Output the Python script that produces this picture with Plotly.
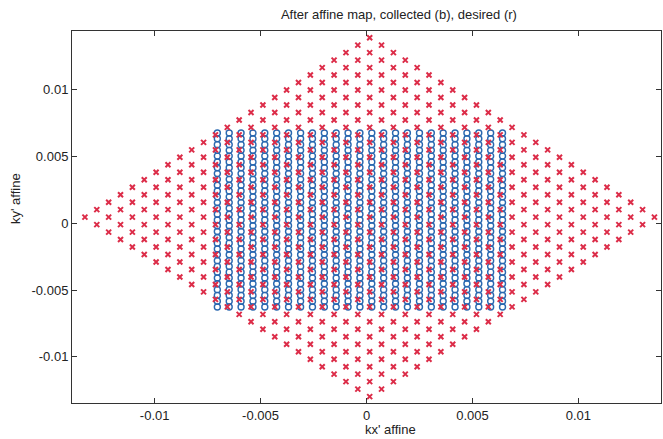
import plotly.graph_objects as go

# Collected samples (blue circles): rectangular grid after affine map
collected_kx = [-0.00704, -0.00648, -0.00592, -0.00536, -0.00480, -0.00424, -0.00368,
                -0.00311, -0.00255, -0.00199, -0.00143, -0.00087, -0.00031, 0.00025,
                0.00081, 0.00137, 0.00193, 0.00250, 0.00306, 0.00362, 0.00418, 0.00474,
                0.00530, 0.00586, 0.00642]
collected_ky = [-0.00627, -0.00584, -0.00540, -0.00497, -0.00453, -0.00410, -0.00366,
                -0.00323, -0.00280, -0.00236, -0.00193, -0.00149, -0.00106, -0.00062,
                -0.00019, 0.00025, 0.00068, 0.00112, 0.00155, 0.00198, 0.00242, 0.00285,
                0.00329, 0.00372, 0.00416, 0.00459, 0.00503, 0.00546, 0.00589, 0.00633,
                0.00676]

# Desired Cartesian grid (red x) before the affine map
desired_u = [-0.00672, -0.00616, -0.00560, -0.00504, -0.00448, -0.00392, -0.00336,
             -0.00280, -0.00224, -0.00168, -0.00112, -0.00056, 0.0, 0.00056, 0.00112,
             0.00168, 0.00224, 0.00280, 0.00336, 0.00392, 0.00448, 0.00504, 0.00560,
             0.00616, 0.00672]
desired_v = list(desired_u)
affine_matrix = [[1.0, 1.0], [-1.0, 1.0]]
affine_offset = [0.00015, 0.00046]

x_ticks = [-0.01, -0.005, 0, 0.005, 0.01]
x_tick_labels = ["-0.01", "-0.005", "0", "0.005", "0.01"]
y_ticks = [-0.01, -0.005, 0, 0.005, 0.01]
y_tick_labels = ["-0.01", "-0.005", "0", "0.005", "0.01"]

bx, by = [], []
for x in collected_kx:
    for y in collected_ky:
        bx.append(x)
        by.append(y)

rx, ry = [], []
for u in desired_u:
    for v in desired_v:
        rx.append(affine_matrix[0][0] * u + affine_matrix[0][1] * v + affine_offset[0])
        ry.append(affine_matrix[1][0] * u + affine_matrix[1][1] * v + affine_offset[1])

fig = go.Figure()
fig.add_trace(go.Scatter(
    x=bx, y=by, mode="markers", name="collected",
    marker=dict(symbol="circle-open", size=6, color="#2a68b0",
                line=dict(width=1.4, color="#2a68b0")),
))
fig.add_trace(go.Scatter(
    x=rx, y=ry, mode="markers", name="desired",
    marker=dict(symbol="x-thin", size=5, color="#dc2c48",
                line=dict(width=2, color="#dc2c48")),
))

font_family = "Liberation Sans, Arial, Helvetica, sans-serif"
axis_common = dict(
    showgrid=False, zeroline=False, showline=True, linecolor="#333333", linewidth=1,
    mirror="ticks", ticks="inside", ticklen=5, tickcolor="#333333", tickwidth=1,
    tickfont=dict(family=font_family, size=13, color="#222222"),
)

plot_w = 663 - 72 - 2
plot_h = 439 - 31 - 36

fig.update_layout(
    width=663, height=439,
    margin=dict(l=72, r=2, t=31, b=36),
    paper_bgcolor="white", plot_bgcolor="white",
    showlegend=False,
    title=dict(text="After affine map, collected (b), desired (r)",
               x=368 / 663, xanchor="center", xref="paper",
               y=1 - 14 / 439, yanchor="middle", yref="container",
               font=dict(family=font_family, size=13, color="#222222")),
    xaxis=dict(range=[-0.0139, 0.0139], tickvals=x_ticks, ticktext=x_tick_labels,
               **axis_common),
    yaxis=dict(range=[-0.01346, 0.0144], tickvals=y_ticks, ticktext=y_tick_labels,
               **axis_common),
    annotations=[
        dict(text="kx' affine", x=(390 - 72) / plot_w, y=(439 - 36 - 429) / plot_h,
             xref="paper", yref="paper", xanchor="center", yanchor="middle",
             showarrow=False, font=dict(family=font_family, size=13, color="#222222")),
        dict(text="ky' affine", x=(15 - 72) / plot_w, y=(439 - 36 - 199) / plot_h,
             xref="paper", yref="paper", xanchor="center", yanchor="middle",
             textangle=-90, showarrow=False,
             font=dict(family=font_family, size=13, color="#222222")),
    ],
)

fig.write_html("out.html")
